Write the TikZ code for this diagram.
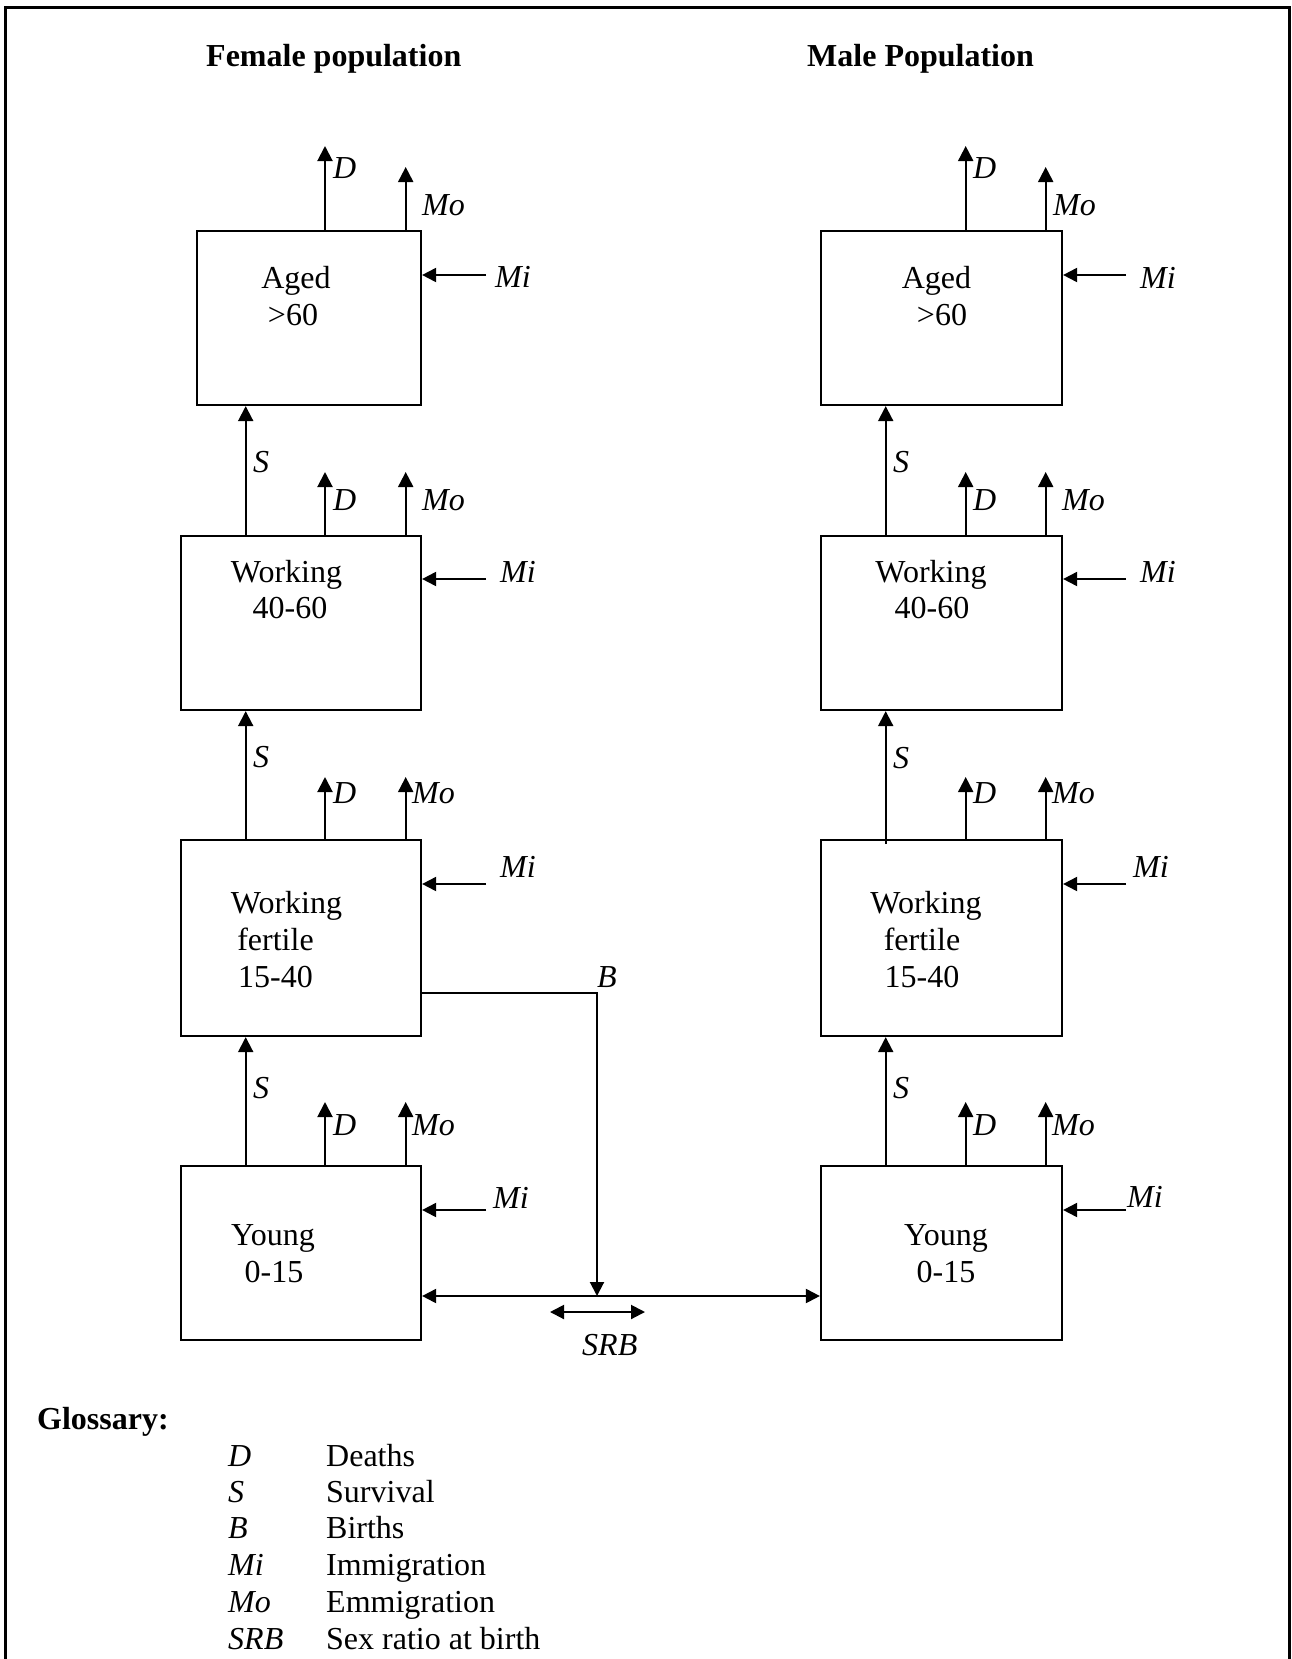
\documentclass[tikz,border=0pt]{standalone}
\usepackage{fontspec}
\setmainfont{Liberation Serif}
\usetikzlibrary{arrows.meta}
\newcommand\popfsz{\fontsize{32}{37}\selectfont}
\tikzset{
  popbox/.style={draw, line width=2.2pt, rectangle, inner sep=0pt},
  flow/.style={-{Triangle[length=15pt,width=15pt]}, line width=2pt},
  inflow/.style={-{Triangle[length=14pt,width=14pt]}, line width=2pt},
  twoway/.style={{Triangle[length=14pt,width=14pt]}-{Triangle[length=14pt,width=14pt]}, line width=2pt},
  lab/.style={font=\popfsz\itshape, anchor=base west, inner sep=0pt},
  txt/.style={font=\popfsz, anchor=base, inner sep=0pt},
  hdr/.style={font=\popfsz\bfseries, anchor=base west, inner sep=0pt},
}
\begin{document}
\begin{tikzpicture}[x=1pt,y=-1pt,font=\popfsz]
\useasboundingbox (0,0) rectangle (1291,1659);
% outer frame (open at the bottom)
\coordinate (frBL) at (5.5,1675);
\coordinate (frTL) at (5.5,7.5);
\coordinate (frTR) at (1289,7.5);
\coordinate (frBR) at (1289,1675);
\draw[line width=3pt] (frBL) -- (frTL) -- (frTR) -- (frBR);

% headers
\node[hdr] (hF) at (206,67) {Female population};
\node[hdr] (hM) at (807,67) {Male Population};

% boxes
\node[popbox, minimum width=224pt, minimum height=174pt] (fA) at (309,318) {};
\node[popbox, minimum width=240pt, minimum height=174pt] (fW) at (301,623) {};
\node[popbox, minimum width=240pt, minimum height=196pt] (fF) at (301,938) {};
\node[popbox, minimum width=240pt, minimum height=174pt] (fY) at (301,1253) {};
\node[popbox, minimum width=241pt, minimum height=174pt] (mA) at (941.5,318) {};
\node[popbox, minimum width=241pt, minimum height=174pt] (mW) at (941.5,623) {};
\node[popbox, minimum width=241pt, minimum height=196pt] (mF) at (941.5,938) {};
\node[popbox, minimum width=241pt, minimum height=174pt] (mY) at (941.5,1253) {};

% box texts female
\node[txt] (tfA1) at (296,288) {Aged};
\node[txt] (tfA2) at (293,325) {>60};
\node[txt] (tfW1) at (286.5,582) {Working};
\node[txt] (tfW2) at (290,618) {40-60};
\node[txt] (tfF1) at (286.5,913) {Working};
\node[txt] (tfF2) at (275.5,950) {fertile};
\node[txt] (tfF3) at (275.5,987) {15-40};
\node[txt] (tfY1) at (273,1245) {Young};
\node[txt] (tfY2) at (274,1282) {0-15};
% box texts male
\node[txt] (tmA1) at (936.5,288) {Aged};
\node[txt] (tmA2) at (942,325) {>60};
\node[txt] (tmW1) at (931,582) {Working};
\node[txt] (tmW2) at (932,618) {40-60};
\node[txt] (tmF1) at (926,913) {Working};
\node[txt] (tmF2) at (922,950) {fertile};
\node[txt] (tmF3) at (922,987) {15-40};
\node[txt] (tmY1) at (946,1245) {Young};
\node[txt] (tmY2) at (946,1282) {0-15};

% column x positions
\coordinate (fS) at (245.7,0); \coordinate (fD) at (325,0); \coordinate (fM) at (405.7,0);
\coordinate (mS) at (885.7,0); \coordinate (mD) at (965.7,0); \coordinate (mM) at (1045.7,0);
% tip heights
\coordinate (tA1) at (0,146); \coordinate (tA2) at (0,167);
\coordinate (tW) at (0,472); \coordinate (tF) at (0,777); \coordinate (tY) at (0,1102);

% female outflows
\draw[flow] (fD |- fA.north) -- (fD |- tA1);
\draw[flow] (fM |- fA.north) -- (fM |- tA2);
\draw[flow] (fD |- fW.north) -- (fD |- tW);
\draw[flow] (fM |- fW.north) -- (fM |- tW);
\draw[flow] (fD |- fF.north) -- (fD |- tF);
\draw[flow] (fM |- fF.north) -- (fM |- tF);
\draw[flow] (fD |- fY.north) -- (fD |- tY);
\draw[flow] (fM |- fY.north) -- (fM |- tY);
% female survival
\draw[flow] (fS |- fW.north) -- (fS |- fA.south);
\draw[flow] (fS |- fF.north) -- (fS |- fW.south);
\draw[flow] (fS |- fY.north) -- (fS |- fF.south);
% male outflows
\draw[flow] (mD |- mA.north) -- (mD |- tA1);
\draw[flow] (mM |- mA.north) -- (mM |- tA2);
\draw[flow] (mD |- mW.north) -- (mD |- tW);
\draw[flow] (mM |- mW.north) -- (mM |- tW);
\draw[flow] (mD |- mF.north) -- (mD |- tF);
\draw[flow] (mM |- mF.north) -- (mM |- tF);
\draw[flow] (mD |- mY.north) -- (mD |- tY);
\draw[flow] (mM |- mY.north) -- (mM |- tY);
% male survival
\coordinate (mFs) at (885.7,844);
\draw[flow] (mS |- mW.north) -- (mS |- mA.south);
\draw[flow] (mFs) -- (mS |- mW.south);
\draw[flow] (mS |- mY.north) -- (mS |- mF.south);

% immigration
\coordinate (fiA) at (486,275); \coordinate (fiW) at (486,579);
\coordinate (fiF) at (486,884); \coordinate (fiY) at (486,1210);
\coordinate (miA) at (1126,275); \coordinate (miW) at (1126,579);
\coordinate (miF) at (1126,884); \coordinate (miY) at (1126,1210);
\draw[inflow] (fiA) -- (fiA -| fA.east);
\draw[inflow] (fiW) -- (fiW -| fW.east);
\draw[inflow] (fiF) -- (fiF -| fF.east);
\draw[inflow] (fiY) -- (fiY -| fY.east);
\draw[inflow] (miA) -- (miA -| mA.east);
\draw[inflow] (miW) -- (miW -| mW.east);
\draw[inflow] (miF) -- (miF -| mF.east);
\draw[inflow] (miY) -- (miY -| mY.east);

% births and SRB
\coordinate (bc) at (597,992.7);
\coordinate (hy) at (0,1296);
\draw[twoway] (fY.east |- hy) -- (mY.west |- hy);
\draw[inflow] (bc -| fF.east) -- (bc) -- (bc |- hy);
\coordinate (srbL) at (550,1312); \coordinate (srbR) at (645,1312);
\draw[twoway] (srbL) -- (srbR);
\node[lab] (lB) at (597,987) {B};
\node[lab] (lSRB) at (582,1355) {SRB};

% female labels
\node[lab] (lfAD) at (333,178) {D};
\node[lab] (lfAM) at (422,215) {Mo};
\node[lab] (lfAi) at (495,287) {Mi};
\node[lab] (lfWS) at (253,472) {S};
\node[lab] (lfWD) at (333,510) {D};
\node[lab] (lfWM) at (422,510) {Mo};
\node[lab] (lfWi) at (500,582) {Mi};
\node[lab] (lfFS) at (253,767) {S};
\node[lab] (lfFD) at (333,803) {D};
\node[lab] (lfFM) at (412,803) {Mo};
\node[lab] (lfFi) at (500,877) {Mi};
\node[lab] (lfYS) at (253,1098) {S};
\node[lab] (lfYD) at (333,1135) {D};
\node[lab] (lfYM) at (412,1135) {Mo};
\node[lab] (lfYi) at (493,1208) {Mi};
% male labels
\node[lab] (lmAD) at (973,178) {D};
\node[lab] (lmAM) at (1053,215) {Mo};
\node[lab] (lmAi) at (1140,288) {Mi};
\node[lab] (lmWS) at (893,472) {S};
\node[lab] (lmWD) at (973,510) {D};
\node[lab] (lmWM) at (1062,510) {Mo};
\node[lab] (lmWi) at (1140,582) {Mi};
\node[lab] (lmFS) at (893,768) {S};
\node[lab] (lmFD) at (973,803) {D};
\node[lab] (lmFM) at (1052,803) {Mo};
\node[lab] (lmFi) at (1133,877) {Mi};
\node[lab] (lmYS) at (893,1098) {S};
\node[lab] (lmYD) at (973,1135) {D};
\node[lab] (lmYM) at (1052,1135) {Mo};
\node[lab] (lmYi) at (1127,1207) {Mi};

% glossary
\node[hdr] (gT) at (37,1429) {Glossary:};
\node[lab] (g1) at (228,1466) {D};   \node[txt, anchor=base west] (g1d) at (326,1466) {Deaths};
\node[lab] (g2) at (228,1502) {S};   \node[txt, anchor=base west] (g2d) at (326,1502) {Survival};
\node[lab] (g3) at (228,1538) {B};   \node[txt, anchor=base west] (g3d) at (326,1538) {Births};
\node[lab] (g4) at (228,1575) {Mi};  \node[txt, anchor=base west] (g4d) at (326,1575) {Immigration};
\node[lab] (g5) at (228,1612) {Mo};  \node[txt, anchor=base west] (g5d) at (326,1612) {Emmigration};
\node[lab] (g6) at (228,1649) {SRB}; \node[txt, anchor=base west] (g6d) at (326,1649) {Sex ratio at birth};
\end{tikzpicture}
\end{document}
